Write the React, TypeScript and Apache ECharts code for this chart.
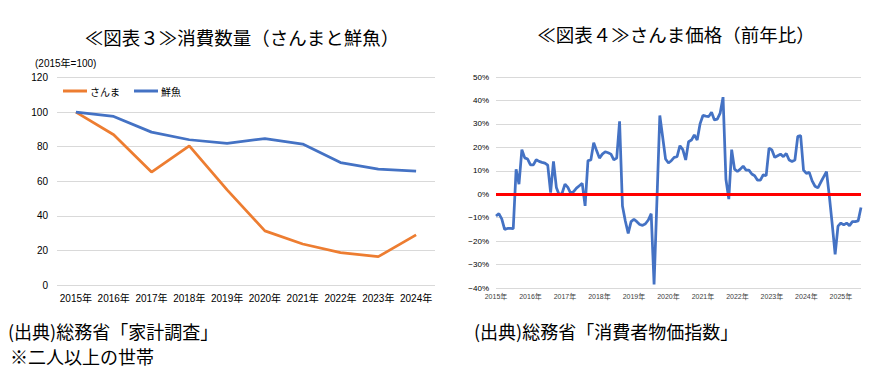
import React, { useEffect, useRef } from "react";
import * as echarts from "echarts";

// ---- Left chart (図表3): consumption volume index, 2015 = 100 ----
const yearCategories = ["2015年", "2016年", "2017年", "2018年", "2019年", "2020年", "2021年", "2022年", "2023年", "2024年"];
const sanmaVolume = [100, 86.9, 65.3, 80.5, 55, 31.3, 23.7, 18.7, 16.4, 29];
const freshFishVolume = [100, 97.5, 88.4, 84, 81.9, 84.7, 81.5, 70.8, 67, 65.8];
const leftTicks = [0, 20, 40, 60, 80, 100, 120];

// ---- Right chart (図表4): sanma price YoY (%) monthly, 2015-01 .. 2025-08 ----
const priceYears = [2015, 2016, 2017, 2018, 2019, 2020, 2021, 2022, 2023, 2024, 2025];
const sanmaPrice2015 = [-9.3, -8.3, -10.5, -15, -14.6, -14.6, -14.7, 10.6, 4.3, 19, 15.5, 15];
const sanmaPrice2016 = [12.5, 12.5, 14.7, 14, 13.6, 13.3, 12.4, 0.7, 14, 2.9, -0.3, 0.4];
const sanmaPrice2017 = [4.3, 2.9, 0.4, 1.1, 2.6, 3.6, 4.6, -5, 14.3, 14.6, 22, 18.6];
const sanmaPrice2018 = [15.4, 17.1, 18.1, 17.7, 17.1, 14.7, 15.4, 31.1, -5, -11.4, -16.7, -11.7];
const sanmaPrice2019 = [-10.7, -11.7, -12.9, -13.3, -12.6, -11, -8.3, -38.5, -2.5, 33.6, 24.3, 15];
const sanmaPrice2020 = [13.3, 14.3, 15.7, 16, 20.7, 19, 14.6, 22.4, 23.1, 25.3, 23.1, 30];
const sanmaPrice2021 = [33.6, 33.3, 33.1, 35, 31.7, 32, 34.6, 41.4, 6.4, -2.1, 19, 10.7];
const sanmaPrice2022 = [9.7, 10.7, 12, 10.3, 10.3, 8.6, 7.9, 6, 6, 8.3, 7.9, 19.7];
const sanmaPrice2023 = [18.9, 15.7, 16.4, 17.1, 16, 17.4, 14.6, 14, 14.6, 24.7, 25, 10.3];
const sanmaPrice2024 = [8.9, 9.3, 5.7, 3.4, 2.7, 5.1, 7.4, 9.6, -1, -13, -25.7, -13.6];
const sanmaPrice2025 = [-12.3, -13.1, -12.3, -13.4, -11.7, -11.7, -11.4, -5.7];
const rightTicks = [-40, -30, -20, -10, 0, 10, 20, 30, 40, 50];

const sanmaPriceByYear = [
  sanmaPrice2015, sanmaPrice2016, sanmaPrice2017, sanmaPrice2018, sanmaPrice2019, sanmaPrice2020,
  sanmaPrice2021, sanmaPrice2022, sanmaPrice2023, sanmaPrice2024, sanmaPrice2025,
];

const monthCategories: string[] = [];
const sanmaPrice: number[] = [];
priceYears.forEach((y, yi) => {
  sanmaPriceByYear[yi].forEach((v, mi) => {
    monthCategories.push(`${y}-${String(mi + 1).padStart(2, "0")}`);
    sanmaPrice.push(v);
  });
});

const ORANGE = "#ED7D31";
const BLUE = "#4472C4";
const GRID_GRAY = "#D9D9D9";
const LABEL = "#404040";
const SANS = "'Liberation Sans', 'Noto Sans CJK JP', sans-serif";
const CJK = "'Noto Sans CJK JP', sans-serif";

export default function App() {
  const ref = useRef<HTMLDivElement>(null);

  useEffect(() => {
    if (!ref.current) return;
    const chart = echarts.init(ref.current, undefined, { renderer: "svg" });

    const option: any = {
      animation: false,
      backgroundColor: "#ffffff",
      grid: [
        { left: 57, top: 77.5, width: 378, height: 207.5, containLabel: false },
        { left: 496, top: 77, width: 365, height: 211, containLabel: false },
      ],
      legend: {
        data: ["さんま", "鮮魚"],
        left: 63,
        top: 86,
        padding: 0,
        itemGap: 14,
        itemWidth: 24,
        itemHeight: 3,
        icon: "rect",
        textStyle: { fontSize: 10, color: "#000", fontFamily: CJK, padding: [0, 0, 0, -2] },
      },
      xAxis: [
        {
          type: "category",
          gridIndex: 0,
          data: yearCategories,
          boundaryGap: true,
          axisLine: { show: false, onZero: false },
          axisTick: { show: false },
          axisLabel: { interval: 0, fontSize: 10, color: "#000", fontFamily: SANS, margin: 8 },
        },
        {
          type: "category",
          gridIndex: 1,
          data: monthCategories,
          boundaryGap: false,
          axisLine: { show: false, onZero: false },
          axisTick: { show: false },
          axisLabel: {
            fontSize: 7,
            color: LABEL,
            fontFamily: SANS,
            margin: 5,
            interval: (idx: number) => idx % 12 === 0,
            formatter: (v: string) => v.slice(0, 4) + "年",
          },
        },
      ],
      yAxis: [
        {
          type: "value",
          gridIndex: 0,
          min: leftTicks[0],
          max: leftTicks[leftTicks.length - 1],
          interval: 20,
          axisLine: { show: false },
          axisTick: { show: false },
          axisLabel: { fontSize: 10, color: "#000", fontFamily: SANS, margin: 9 },
          splitLine: { lineStyle: { color: GRID_GRAY, width: 1 } },
        },
        {
          type: "value",
          gridIndex: 1,
          min: rightTicks[0],
          max: rightTicks[rightTicks.length - 1],
          interval: 10,
          axisLine: { show: false },
          axisTick: { show: false },
          axisLabel: {
            fontSize: 8,
            color: "#000",
            fontFamily: SANS,
            margin: 7,
            formatter: (v: number) => (v < 0 ? "−" + Math.abs(v) : String(v)) + "%",
          },
          splitLine: { lineStyle: { color: GRID_GRAY, width: 1 } },
        },
      ],
      series: [
        {
          name: "さんま",
          type: "line",
          xAxisIndex: 0,
          yAxisIndex: 0,
          data: sanmaVolume,
          showSymbol: false,
          symbol: "none",
          color: ORANGE,
          lineStyle: { color: ORANGE, width: 2.75 },
        },
        {
          name: "鮮魚",
          type: "line",
          xAxisIndex: 0,
          yAxisIndex: 0,
          data: freshFishVolume,
          showSymbol: false,
          symbol: "none",
          color: BLUE,
          lineStyle: { color: BLUE, width: 2.75 },
        },
        {
          name: "さんま価格",
          type: "line",
          xAxisIndex: 1,
          yAxisIndex: 1,
          data: sanmaPrice,
          showSymbol: false,
          symbol: "none",
          color: BLUE,
          lineStyle: { color: BLUE, width: 2.75 },
          markLine: {
            silent: true,
            symbol: ["none", "none"],
            label: { show: false },
            lineStyle: { color: "#FF0000", width: 3, type: "solid" },
            data: [{ yAxis: 0 }],
          },
        },
      ],
      graphic: [
        {
          type: "text",
          style: {
            text: "≪図表３≫消費数量（さんまと鮮魚）",
            x: 242,
            y: 37,
            textAlign: "center",
            textVerticalAlign: "middle",
            fontSize: 18.5,
            fontFamily: CJK,
            fill: "#000",
          },
        },
        {
          type: "text",
          style: {
            text: "≪図表４≫さんま価格（前年比）",
            x: 676,
            y: 34,
            textAlign: "center",
            textVerticalAlign: "middle",
            fontSize: 18.5,
            fontFamily: CJK,
            fill: "#000",
          },
        },
        {
          type: "text",
          style: {
            text: "(2015年=100)",
            x: 35,
            y: 63,
            textAlign: "left",
            textVerticalAlign: "middle",
            fontSize: 10,
            fontFamily: SANS,
            fill: "#000",
          },
        },
        {
          type: "text",
          style: {
            text: "(出典)総務省「家計調査」",
            x: 8,
            y: 331,
            textAlign: "left",
            textVerticalAlign: "middle",
            fontSize: 18,
            fontFamily: CJK,
            fill: "#000",
          },
        },
        {
          type: "text",
          style: {
            text: "※二人以上の世帯",
            x: 10,
            y: 356,
            textAlign: "left",
            textVerticalAlign: "middle",
            fontSize: 18,
            fontFamily: CJK,
            fill: "#000",
          },
        },
        {
          type: "text",
          style: {
            text: "(出典)総務省「消費者物価指数」",
            x: 474,
            y: 331,
            textAlign: "left",
            textVerticalAlign: "middle",
            fontSize: 18,
            fontFamily: CJK,
            fill: "#000",
          },
        },
      ],
    };

    chart.setOption(option);
    return () => chart.dispose();
  }, []);

  return (
    <div
      ref={ref}
      style={{ position: "absolute", left: 0, top: 0, width: 888, height: 376, background: "#fff" }}
    />
  );
}
